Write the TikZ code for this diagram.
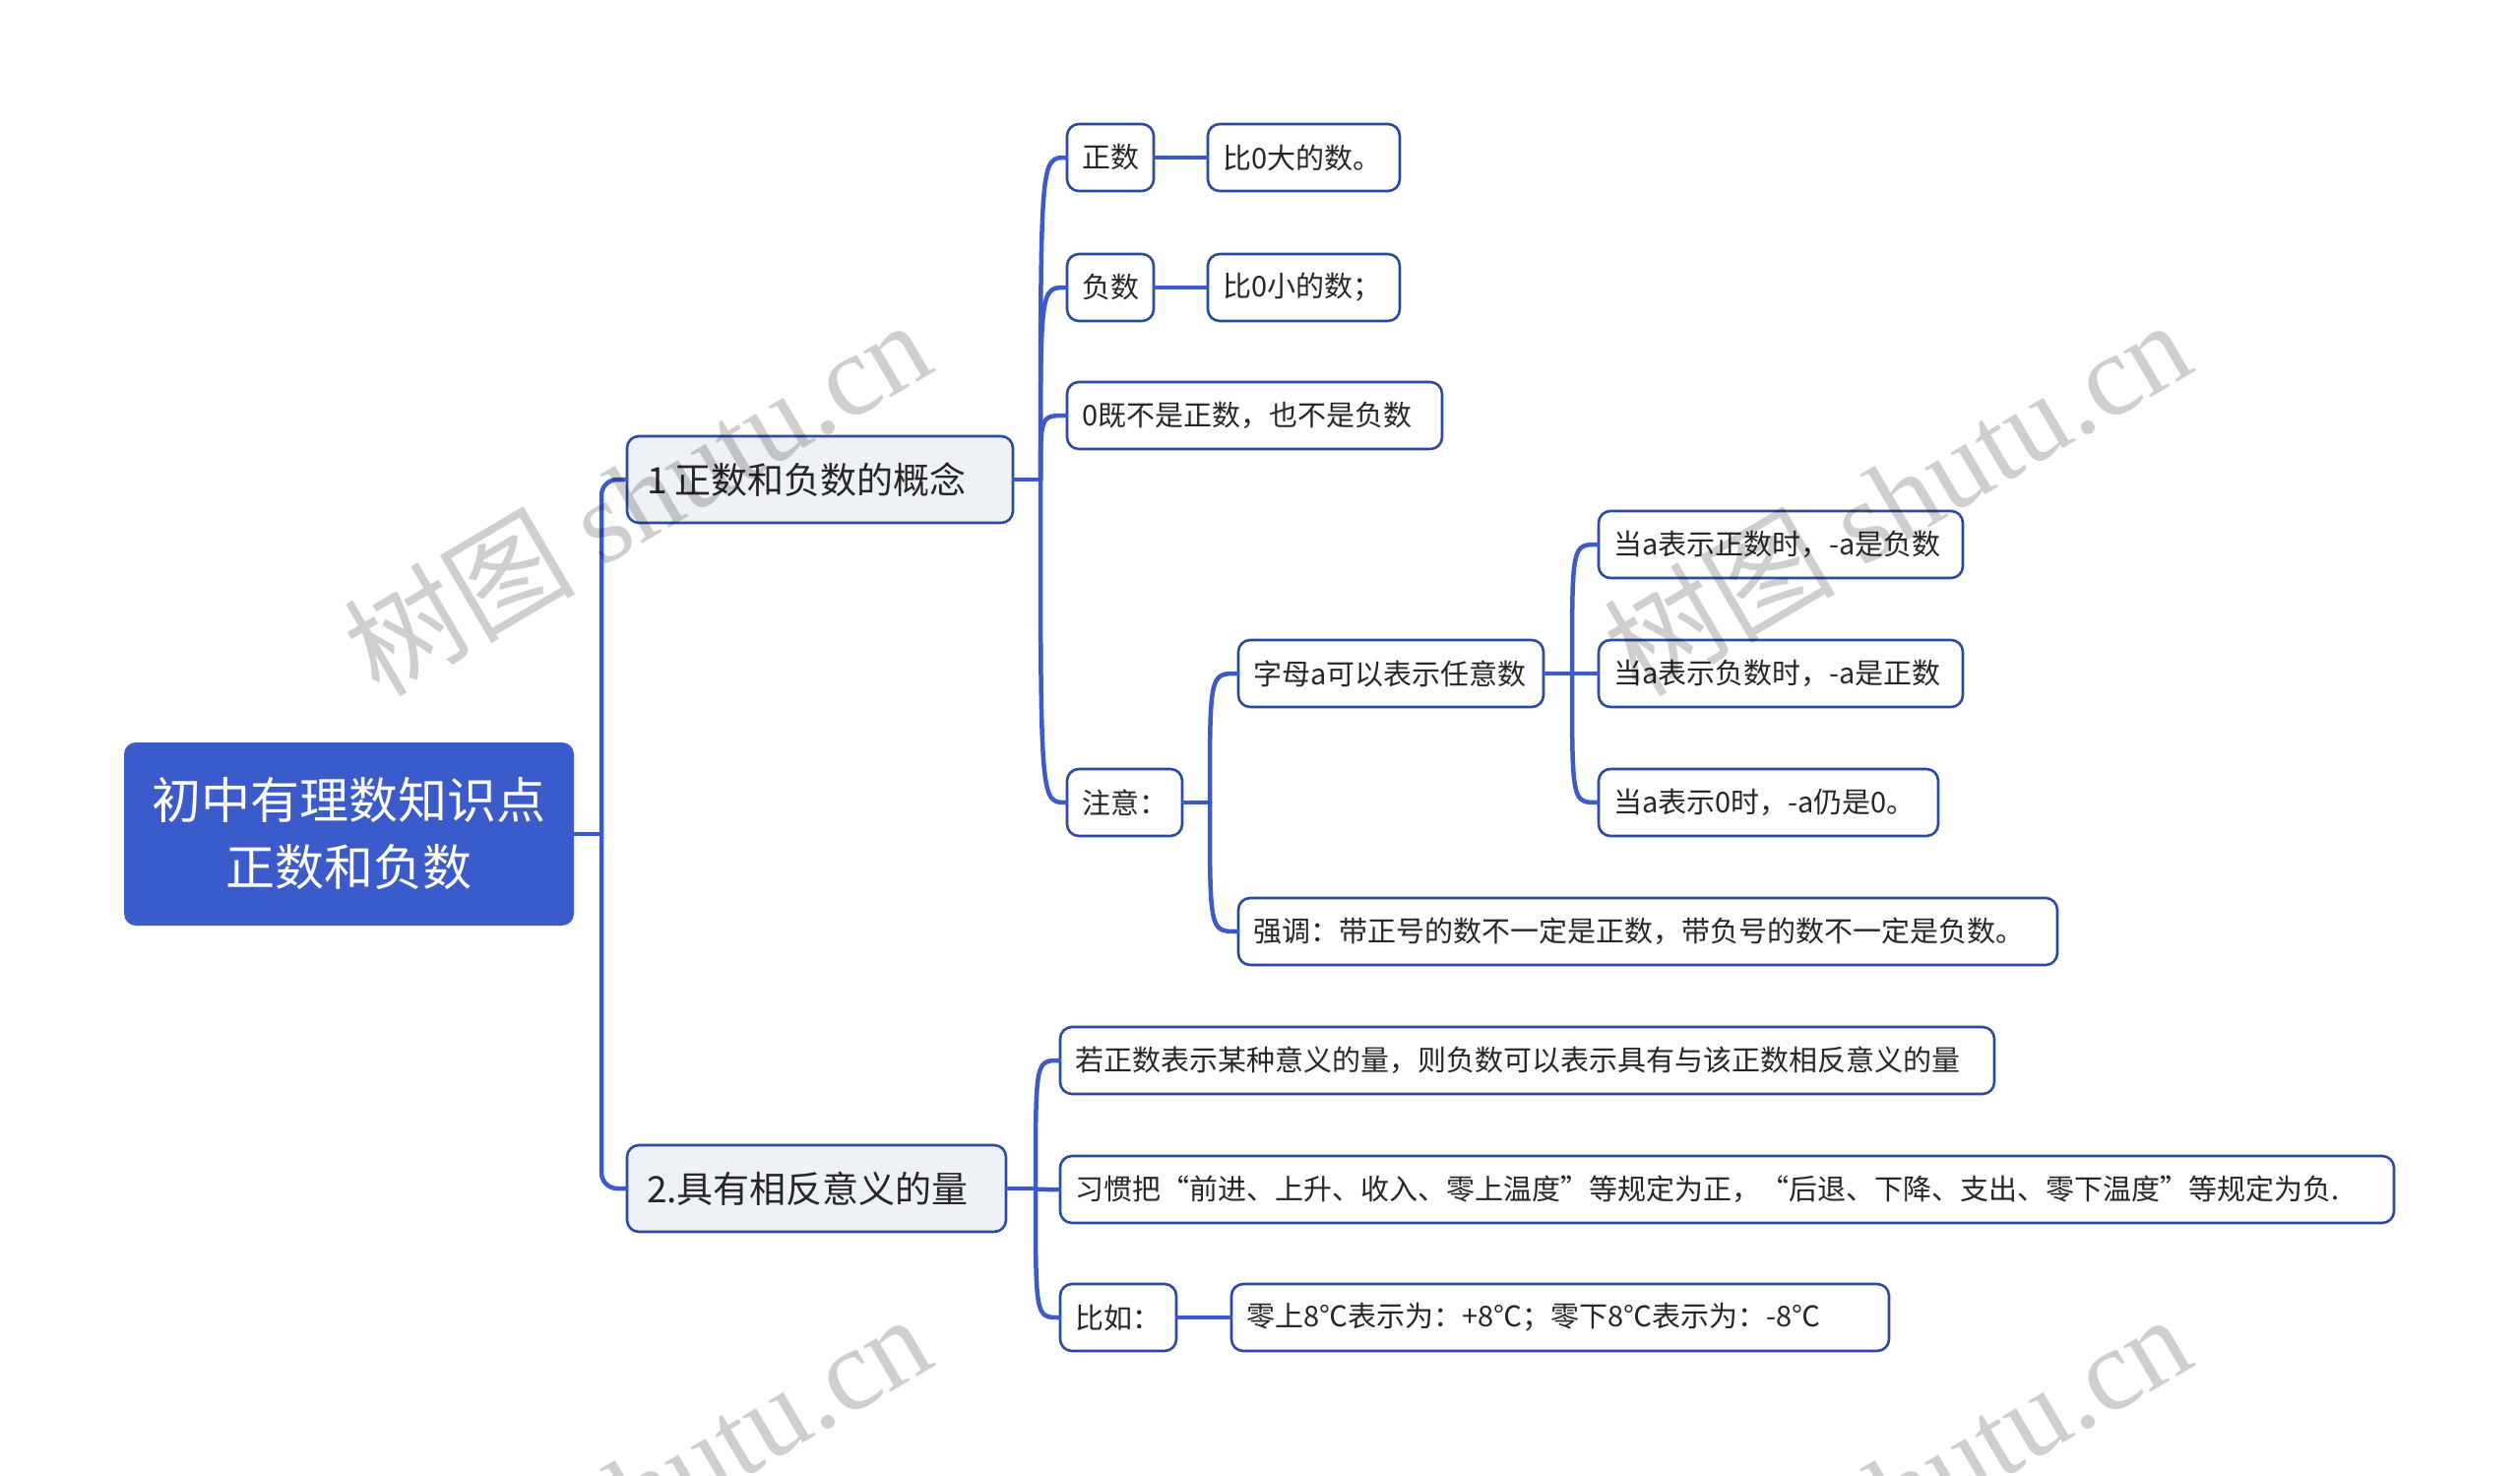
\documentclass[tikz,border=0pt]{standalone}
\usepackage{fontspec}
\setmainfont{Noto Sans CJK SC}
\newfontfamily\wmserif{Liberation Serif}
\definecolor{cconn}{HTML}{3A5BC9}
\definecolor{cbd}{HTML}{2C4BA0}
\definecolor{ctxt}{HTML}{262626}
\definecolor{cmain}{HTML}{EEF1F6}
\definecolor{croot}{HTML}{3B5BCB}
\newcommand{\ltxt}[2]{\makebox[#1pt][l]{#2}}
\begin{document}
\begin{tikzpicture}[x=1pt,y=-1pt,
  box/.style={draw=cbd, line width=2.6, rounded corners=12, fill=white, text=ctxt,
    font=\fontsize{29}{34}\selectfont, inner ysep=0, inner xsep=15, align=center, minimum height=68},
  mainbox/.style={box, fill=cmain, font=\fontsize{37}{44}\selectfont, minimum height=88, inner xsep=20},
  rootbox/.style={fill=croot, rounded corners=12, text=white,
    font=\fontsize{50}{68}\selectfont, align=center, inner sep=0},
  link/.style={draw=cconn, line width=4.5, line cap=round, line join=round},
  wm/.style={text=black, opacity=0.19, font=\fontsize{118}{130}\selectfont, inner sep=0}]
\useasboundingbox (0,0) rectangle (2560,1499);
\clip (0,0) rectangle (2560,1499);

% nodes
\node[rootbox, minimum width=457, minimum height=186] (root) at (354.5,847) {初中有理数知识点\\正数和负数};
\node[mainbox, minimum width=392] (n1) at (833,487) {\ltxt{352}{1 正数和负数的概念}};
\node[mainbox, minimum width=385] (n2) at (829.5,1207) {\ltxt{345}{2.具有相反意义的量}};

\node[box, minimum width=88, inner xsep=0] (zs) at (1128,160) {正数};
\node[box, minimum width=195] (zsd) at (1324.5,160) {\ltxt{165}{比0大的数。}};
\node[box, minimum width=88, inner xsep=0] (fs) at (1128,292) {负数};
\node[box, minimum width=195] (fsd) at (1324.5,292) {\ltxt{165}{比0小的数；}};
\node[box, minimum width=381] (zero) at (1274.5,422) {\ltxt{351}{0既不是正数，也不是负数}};
\node[box, minimum width=117] (zy) at (1142.5,815) {\ltxt{87}{注意：}};
\node[box, minimum width=310] (zm) at (1413,684) {\ltxt{280}{字母a可以表示任意数}};
\node[box, minimum width=370] (a1) at (1809,553) {\ltxt{340}{当a表示正数时，-a是负数}};
\node[box, minimum width=370] (a2) at (1809,684) {\ltxt{340}{当a表示负数时，-a是正数}};
\node[box, minimum width=345] (a3) at (1796.5,815) {\ltxt{315}{当a表示0时，-a仍是0。}};
\node[box, minimum width=832] (qd) at (1674,946) {\ltxt{802}{强调：带正号的数不一定是正数，带负号的数不一定是负数。}};

\node[box, minimum width=949] (r1) at (1551.5,1077) {\ltxt{919}{若正数表示某种意义的量，则负数可以表示具有与该正数相反意义的量}};
\node[box, minimum width=1355] (r2) at (1754.5,1208) {\ltxt{1325}{习惯把“前进、上升、收入、零上温度”等规定为正，“后退、下降、支出、零下温度”等规定为负.}};
\node[box, minimum width=118] (br) at (1136,1338) {\ltxt{88}{比如：}};
\node[box, minimum width=668] (brd) at (1585,1338) {\ltxt{638}{零上8℃表示为：+8℃；零下8℃表示为：-8℃}};

% connectors
\coordinate (t0) at (611,847);
\draw[link] (root.east) -- (t0);
\draw[link, rounded corners=16] (n1.west) -| (t0) |- (n2.west);

\coordinate (s1) at (1057,487);
\draw[link] (n1.east) -- (s1);
\foreach \c in {zs,fs,zero,zy}
  \draw[link] (s1) .. controls (s1 |- \c.west) .. (\c.west);
\draw[link] (zs.east) -- (zsd.west);
\draw[link] (fs.east) -- (fsd.west);

\coordinate (s2) at (1229,815);
\draw[link] (zy.east) -- (s2);
\foreach \c in {zm,qd}
  \draw[link] (s2) .. controls (s2 |- \c.west) .. (\c.west);

\coordinate (s3) at (1597,684);
\draw[link] (zm.east) -- (s3);
\foreach \c in {a1,a2,a3}
  \draw[link] (s3) .. controls (s3 |- \c.west) .. (\c.west);

\coordinate (s4) at (1052,1207);
\draw[link] (n2.east) -- (s4);
\foreach \c in {r1,r2,br}
  \draw[link] (s4) .. controls (s4 |- \c.west) .. (\c.west);
\draw[link] (br.east) -- (brd.west);

% watermarks
\node[wm, anchor=base west, rotate=30.5] (wm1) at (385,710) {树图 {\wmserif shutu.cn}};
\node[wm, anchor=base west, rotate=30.5] (wm2) at (1665,710) {树图 {\wmserif shutu.cn}};
\node[wm, anchor=base west, rotate=30.5] (wm3) at (385,1720) {树图 {\wmserif shutu.cn}};
\node[wm, anchor=base west, rotate=30.5] (wm4) at (1665,1720) {树图 {\wmserif shutu.cn}};
\end{tikzpicture}
\end{document}
